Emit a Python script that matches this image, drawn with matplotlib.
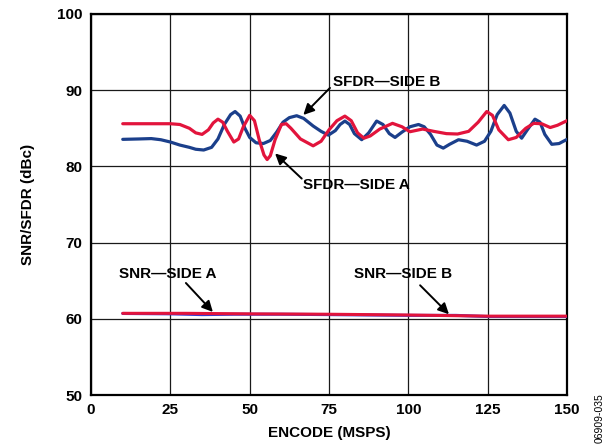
import matplotlib.pyplot as plt

# SFDR side A (red)
sfdr_a_x = [10, 15, 20, 25, 28, 31, 33, 35, 37, 38.5, 40, 41.5, 43, 45, 46.5, 48, 50, 51.5, 53, 54.5,
            55.5, 56.5, 58, 60, 61.5, 63, 66, 70, 72.5, 75, 77.5, 80, 82, 84, 86, 88, 91, 95, 98, 100.5,
            104.5, 108, 112, 115.5, 119, 122, 124.7, 126.5, 128.5, 131.5, 134, 137, 139.5, 142, 144.7, 147, 150]
sfdr_a_y = [85.6, 85.6, 85.6, 85.6, 85.5, 85.0, 84.4, 84.2, 84.8, 85.7, 86.2, 85.8, 84.6, 83.2, 83.6, 85.2,
            86.7, 86.0, 83.5, 81.5, 80.9, 81.4, 83.5, 85.5, 85.6, 85.0, 83.6, 82.7, 83.3, 84.8, 86.0, 86.6,
            86.0, 84.4, 83.7, 84.0, 84.9, 85.65, 85.2, 84.55, 84.9, 84.6, 84.3, 84.25, 84.6, 85.8, 87.2, 86.7,
            84.8, 83.5, 83.8, 85.0, 85.65, 85.6, 85.1, 85.4, 86.0]

# SFDR side B (blue)
sfdr_b_x = [10, 15, 19, 22, 25, 28, 31, 33, 35.5, 38, 40, 42, 44, 45.4, 47, 48.5, 50, 52, 54.3, 56.5,
            58.5, 60.5, 62.5, 64.8, 67, 70, 72.5, 74.8, 77, 78.5, 80, 81.5, 83, 85.3, 87.5, 90, 92, 94,
            95.8, 98, 100.5, 103.2, 105, 107, 109, 111, 113, 115.8, 118.5, 121.5, 124, 126, 128, 130.2,
            132, 134, 135.7, 137.5, 139.9, 141.5, 143, 145.2, 147.5, 150]
sfdr_b_y = [83.55, 83.6, 83.65, 83.5, 83.2, 82.8, 82.5, 82.25, 82.15, 82.5, 83.6, 85.5, 86.8, 87.2, 86.6,
            85.0, 83.8, 83.1, 83.0, 83.4, 84.5, 85.8, 86.4, 86.65, 86.3, 85.3, 84.6, 84.1, 84.7, 85.5,
            85.95, 85.5, 84.3, 83.5, 84.4, 85.95, 85.5, 84.3, 83.8, 84.5, 85.2, 85.5, 85.2, 84.2, 82.8,
            82.4, 82.9, 83.5, 83.3, 82.8, 83.3, 84.6, 86.8, 88.0, 87.0, 84.6, 83.7, 84.8, 86.2, 85.8,
            84.2, 82.9, 83.0, 83.55]

# SNR
snr_a_x = [10, 30, 50, 75, 100, 125, 150]
snr_a_y = [60.72, 60.72, 60.65, 60.6, 60.5, 60.35, 60.35]
snr_b_x = [10, 25, 35, 45, 60, 75, 100, 115, 125, 150]
snr_b_y = [60.7, 60.65, 60.55, 60.6, 60.6, 60.55, 60.45, 60.45, 60.3, 60.3]

x_ticks = [0, 25, 50, 75, 100, 125, 150]
y_ticks = [50, 60, 70, 80, 90, 100]

plt.rcParams['font.family'] = ['Liberation Sans', 'DejaVu Sans']

fig = plt.figure(figsize=(6.08, 4.47), dpi=100)
ax = fig.add_axes([0.1497, 0.1163, 0.7829, 0.8524])

red = '#E2143C'
blue = '#1B3F8B'

line = dict(solid_joinstyle='round', solid_capstyle='round')
ax.plot(snr_b_x, snr_b_y, color='#3A3ACF', lw=2.2, zorder=3, **line)
ax.plot(snr_a_x, snr_a_y, color=red, lw=2.2, zorder=4, **line)
ax.plot(sfdr_b_x, sfdr_b_y, color=blue, lw=2.3, zorder=3, **line)
ax.plot(sfdr_a_x, sfdr_a_y, color=red, lw=2.3, zorder=4, **line)

ax.set_xlim(0, 150)
ax.set_ylim(50, 100)
ax.set_xticks(x_ticks)
ax.set_yticks(y_ticks)
ax.grid(True, color='#1a1a1a', lw=0.9)
ax.tick_params(length=0, labelsize=11, pad=6)
for lab in ax.get_xticklabels() + ax.get_yticklabels():
    lab.set_fontweight('bold')
for s in ax.spines.values():
    s.set_linewidth(1.6)

ax.set_xlabel('ENCODE (MSPS)', fontsize=11, fontweight='bold', labelpad=6)
ax.set_ylabel('SNR/SFDR (dBc)', fontsize=11, fontweight='bold', labelpad=16)

arrow = dict(arrowstyle='-|>', color='black', lw=1.4, mutation_scale=16, shrinkA=0, shrinkB=0)
txt = dict(fontsize=11, fontweight='bold', va='center', ha='left')

ax.annotate('', xy=(66.9, 86.75), xytext=(75.3, 90.3), arrowprops=arrow, zorder=5)
ax.text(76.3, 91.1, 'SFDR\u2014SIDE B', **txt)
ax.annotate('', xy=(58.0, 81.7), xytext=(66.4, 78.4), arrowprops=arrow, zorder=5)
ax.text(66.8, 77.55, 'SFDR\u2014SIDE A', **txt)
ax.annotate('', xy=(38.4, 60.9), xytext=(29.9, 64.7), arrowprops=arrow, zorder=5)
ax.text(8.8, 65.9, 'SNR\u2014SIDE A', **txt)
ax.annotate('', xy=(112.8, 60.6), xytext=(103.7, 64.4), arrowprops=arrow, zorder=5)
ax.text(82.9, 65.9, 'SNR\u2014SIDE B', **txt)

fig.text(0.987, 0.01, '06909-035', rotation=90, fontsize=7.5, ha='center', va='bottom')

fig.savefig('out.png', dpi=100)
